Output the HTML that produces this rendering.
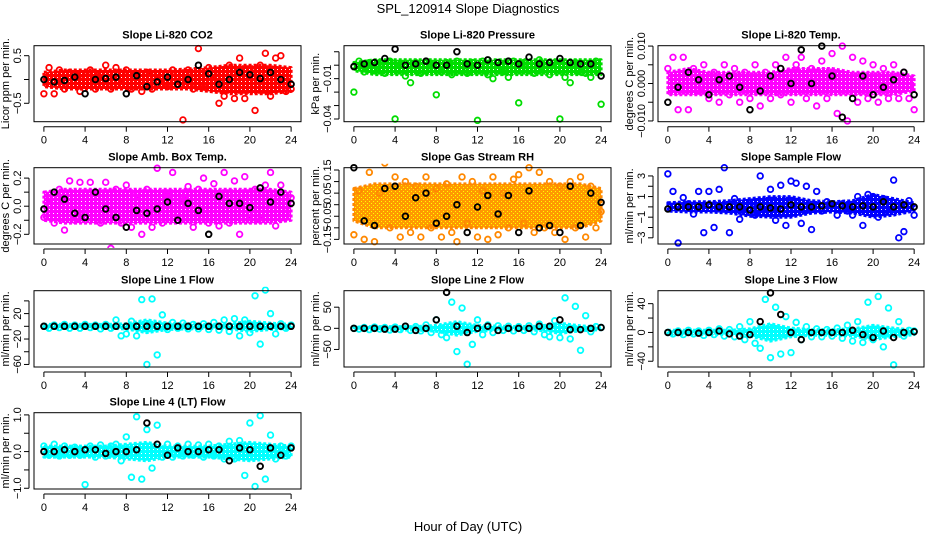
<!DOCTYPE html>
<html><head><meta charset="utf-8">
<style>
html,body{margin:0;padding:0;background:#fff;}
svg{display:block;font-family:"Liberation Sans",Arial,sans-serif;}
</style></head>
<body>
<svg id="chart" width="936" height="540" viewBox="0 0 936 540" xmlns="http://www.w3.org/2000/svg">
<text x="468" y="13" text-anchor="middle" font-size="13">SPL_120914  Slope Diagnostics</text>
<text x="468" y="531" text-anchor="middle" font-size="13">Hour of Day (UTC)</text>
</svg>
<script>
// ---- shared categories ----
const HOURS49 = [0,0.5,1,1.5,2,2.5,3,3.5,4,4.5,5,5.5,6,6.5,7,7.5,8,8.5,9,9.5,10,10.5,11,11.5,12,12.5,13,13.5,14,14.5,15,15.5,16,16.5,17,17.5,18,18.5,19,19.5,20,20.5,21,21.5,22,22.5,23,23.5,24];
const HOURS25 = [0,1,2,3,4,5,6,7,8,9,10,11,12,13,14,15,16,17,18,19,20,21,22,23,24];
const HOURS13 = [0,2,4,6,8,10,12,14,16,18,20,22,24];
const XTICKS = [0,4,8,12,16,20,24];
const XTICK_LABELS = ["0","4","8","12","16","20","24"];

// ---- panel 1: CO2 ----
const co2Points = [-0.3,0.25,-0.3,0.2,-0.2,0.15,0.1,-0.25,0.05,0.2,-0.2,0.1,0.3,-0.2,0.25,-0.1,0.2,-0.2,0.1,-0.25,0.15,-0.2,0.1,-0.1,-0.15,0.2,-0.1,-0.85,0.2,-0.2,0.65,-0.15,0.25,0.1,-0.5,-0.35,0.3,-0.4,0.45,-0.4,0.2,-0.65,0.3,0.55,-0.35,0.45,0.5,-0.25,-0.2];
const co2Hourly = [0,-0.05,-0.02,0.05,-0.3,0,0.02,0.05,-0.3,0.08,-0.15,-0.05,0.05,-0.1,0,0.3,0.12,-0.1,0,0.15,0.1,0.02,0.15,0,-0.1];
const co2BandHi = [0.15,0.2,0.2,0.2,0.2,0.2,0.2,0.22,0.25,0.3,0.3,0.3,0.25];
const co2BandLo = [-0.15,-0.2,-0.2,-0.2,-0.2,-0.2,-0.2,-0.2,-0.25,-0.3,-0.3,-0.3,-0.25];
// ---- panel 2: pressure ----
const presPoints = [-0.02,0.003,-0.005,0.002,-0.004,0.002,-0.006,0.003,-0.04,0.001,-0.008,-0.013,0.002,-0.006,-0.004,0.001,-0.022,-0.005,0.002,-0.007,0.003,-0.004,-0.006,0.002,-0.041,0.003,-0.007,-0.01,0.002,-0.005,-0.009,0.003,-0.028,0.002,-0.004,-0.006,0.004,-0.003,-0.007,0.002,-0.04,-0.009,-0.013,0.002,-0.005,-0.006,-0.009,0.003,-0.029];
const presHourly = [-0.001,0.001,0.002,0.005,0.012,0,0.001,0.003,0,0,0.01,0.001,0,0.004,0.002,0.003,0.001,0.006,0.001,0.002,0.005,0.002,0.001,0.001,-0.008];
const presBandHi = [0.002,0.004,0.004,0.004,0.004,0.004,0.004,0.004,0.004,0.004,0.004,0.004,0.004];
const presBandLo = [-0.004,-0.007,-0.007,-0.007,-0.007,-0.007,-0.007,-0.007,-0.007,-0.007,-0.007,-0.007,-0.007];
// ---- panel 3: Li-820 temp ----
const ltPoints = [0.004,0.007,-0.007,0.007,-0.007,0.004,-0.002,0.005,-0.004,0.003,-0.005,0.005,-0.003,0.004,-0.005,0.003,-0.004,0.005,-0.006,0.003,-0.004,0.005,-0.003,0.007,-0.005,0.005,0.007,-0.004,0.004,-0.006,0.006,-0.004,0.008,-0.008,0.01,-0.01,0.007,-0.005,0.006,-0.004,0.005,-0.005,0.004,-0.004,0.005,-0.004,0.003,-0.004,-0.007];
const ltHourly = [-0.005,-0.001,0.003,0.001,-0.003,0.001,0.002,-0.001,-0.007,-0.002,0.002,0.004,0,0.009,0,0.01,0.002,-0.009,-0.004,0.002,-0.003,-0.001,0.001,0.003,-0.003];
const ltBandHi = [0.003,0.004,0.003,0.003,0.003,0.003,0.004,0.004,0.004,0.003,0.003,0.003,0.002];
const ltBandLo = [-0.003,-0.003,-0.003,-0.003,-0.003,-0.003,-0.003,-0.003,-0.003,-0.003,-0.003,-0.003,-0.002];
// ---- panel 4: amb box temp ----
const abPoints = [-0.08,0.05,-0.12,0.12,-0.17,0.18,-0.1,0.17,-0.05,0.17,0.1,-0.12,0.17,-0.3,0.12,-0.12,0.15,-0.15,0.08,-0.2,0.12,-0.15,0.27,-0.12,0.08,0.24,-0.1,0.05,0.14,-0.15,0.12,0.2,-0.12,0.16,-0.14,0.24,-0.12,0.18,-0.2,0.21,-0.1,0.12,-0.1,0.15,0.24,-0.14,0.15,-0.05,0.06];
const abHourly = [-0.02,0.1,0.05,-0.05,-0.08,0.1,-0.02,-0.08,-0.15,-0.03,-0.05,-0.02,0.03,-0.1,0.02,-0.03,-0.2,0.07,0.02,0.02,-0.01,0.13,0.03,0.1,0.02];
const abBandHi = [0.1,0.12,0.12,0.12,0.12,0.12,0.12,0.12,0.12,0.12,0.12,0.12,0.1];
const abBandLo = [-0.1,-0.12,-0.12,-0.12,-0.12,-0.12,-0.12,-0.12,-0.12,-0.12,-0.12,-0.12,-0.1];
// ---- panel 5: gas stream RH ----
const rhPoints = [-0.13,0.06,-0.15,0.14,-0.16,0.05,0.18,-0.1,0.12,-0.14,0.1,-0.12,0.08,-0.14,0.12,-0.1,0.07,-0.14,0.09,-0.12,-0.16,0.12,-0.08,0.1,-0.14,0.06,-0.15,0.12,-0.13,0.05,-0.1,0.11,0.13,-0.08,0.16,-0.12,0.14,-0.1,0.1,-0.12,0.08,-0.15,0.1,-0.1,0.12,-0.14,0.08,-0.1,-0.03];
const rhHourly = [0.16,-0.07,-0.09,0.07,0.08,-0.05,0.03,0.05,-0.08,-0.05,0,-0.12,-0.01,0.04,-0.04,0.04,-0.12,0.06,-0.1,-0.09,-0.12,0.08,-0.09,0.05,0.01];
const rhBandHi = [0.07,0.09,0.09,0.09,0.09,0.09,0.09,0.09,0.09,0.09,0.09,0.09,0.07];
const rhBandLo = [-0.07,-0.1,-0.1,-0.1,-0.1,-0.1,-0.1,-0.1,-0.1,-0.1,-0.1,-0.1,-0.07];
// ---- panel 6: sample flow ----
const sfPoints = [3.2,1.5,-3.5,0.9,0.3,-0.7,1.5,-2.5,1.5,-2,1.7,3.8,-2.5,0.8,-1.2,-0.5,0.2,-0.8,3,-0.5,1.7,-1.3,2.1,-1.8,2.5,2.3,-1.6,2,-2.2,1.5,-0.4,0.5,0.2,-0.8,0.3,-0.4,-0.8,1,-1.8,1.2,1,-1,0.8,-0.5,2.6,-3,-2.4,0.6,-0.8];
const sfHourly = [-0.2,0,0,0,0.2,0,0,0,-0.3,0,-0.1,-0.2,0.2,0,0,0.1,0.3,0.1,0,0.1,0,0.5,0,0.2,0];
const sfBandHi = [0.4,0.5,0.5,0.6,0.8,1,1,0.6,0.5,0.6,1.2,0.8,0.4];
const sfBandLo = [-0.4,-0.5,-0.5,-0.6,-0.9,-1,-1,-0.6,-0.5,-0.6,-1,-0.8,-0.4];
// ---- panel 7: line 1 flow ----
const l1Points = [0,-3,2,-2,3,-3,2,-3,3,-2,2,-4,3,-3,10,-15,-12,8,-15,42,-60,43,-45,18,-5,6,-3,5,-4,3,-4,4,-5,6,-6,10,-8,12,-15,10,-10,48,-28,57,20,-12,4,-3,2];
const l1Hourly = [0,0,0,0,0,0,0,0,0,0,0,0,0,0,0,0,0,0,0,0,0,0,0,0,0];
const l1BandHi = [3,3,3,3,4,10,5,4,3,4,8,5,3];
const l1BandLo = [-3,-3,-3,-3,-4,-10,-5,-4,-3,-4,-8,-5,-3];
// ---- panel 8: line 2 flow ----
const l2Points = [0,-2,2,-3,3,-2,2,-4,3,-3,5,-5,4,-6,8,-10,20,-15,-22,62,-55,48,-85,-38,20,-15,8,-10,6,-5,5,-6,4,-5,6,-8,10,-15,-20,18,-22,72,-25,52,-52,30,-8,4,2];
const l2Hourly = [0,0,0,-2,-2,5,-5,0,20,85,5,-10,0,5,-5,0,0,0,5,5,20,-3,-3,0,2];
const l2BandHi = [3,4,4,4,7,16,7,5,4,5,12,6,3];
const l2BandLo = [-3,-4,-4,-4,-7,-16,-7,-5,-4,-5,-12,-6,-3];
// ---- panel 9: line 3 flow ----
const l3Points = [0,-2,2,-3,3,-2,2,-4,3,-3,5,-5,4,-6,8,-10,15,-15,-22,46,-35,35,-30,22,-28,14,-10,8,-6,5,-6,4,-5,6,-8,10,-12,15,-14,42,-10,50,-20,34,-45,15,-5,3,2];
const l3Hourly = [0,0,0,-1,0,2,-2,-5,-3,15,55,25,0,-10,0,0,0,0,3,-3,-7,2,-7,0,1];
const l3BandHi = [3,3,3,3,5,12,6,4,4,5,10,6,3];
const l3BandLo = [-3,-3,-3,-3,-5,-12,-6,-4,-4,-5,-10,-6,-3];
// ---- panel 10: line 4 (LT) flow ----
const l4Points = [0.15,-0.1,0.2,-0.12,0.15,-0.1,0.12,-0.1,-0.9,0.15,-0.15,0.18,-0.12,0.15,0.2,-0.25,0.4,-0.7,0.95,-0.75,0.6,-0.45,0.72,-0.15,0.2,-0.15,0.15,-0.12,0.2,-0.1,0.18,-0.15,0.2,-0.12,0.15,-0.2,0.28,-0.2,0.3,-0.65,0.78,-0.95,0.98,-0.75,0.45,-0.2,0.15,-0.12,0.15];
const l4Hourly = [0,0,0.05,0,0.05,0.05,-0.05,0,0,0.05,0.78,0.2,-0.1,0.1,0,0,0.05,0.05,-0.25,0.1,0.05,-0.4,0.1,-0.1,0.1];
const l4BandHi = [0.15,0.15,0.15,0.15,0.2,0.25,0.15,0.15,0.15,0.2,0.25,0.2,0.15];
const l4BandLo = [-0.15,-0.15,-0.15,-0.15,-0.2,-0.25,-0.15,-0.15,-0.15,-0.2,-0.25,-0.2,-0.15];

// ---- y ticks / labels ----
const co2Ticks=[0.5,0,-0.5], co2Labels=["0.5","","−0.5"];
const presTicks=[0.01,0,-0.01,-0.02,-0.03,-0.04], presLabels=["","","−0.01","","","−0.04"];
const ltTicks=[0.01,0.005,0,-0.005,-0.01], ltLabels=["0.010","","0.000","","−0.010"];
const abTicks=[0.2,0.1,0,-0.1,-0.2], abLabels=["0.2","","0.0","","−0.2"];
const rhTicks=[0.15,0.1,0.05,0,-0.05,-0.1,-0.15], rhLabels=["0.15","","0.05","","−0.05","","−0.15"];
const sfTicks=[3,2,1,0,-1,-2,-3], sfLabels=["3","","1","","−1","","−3"];
const l1Ticks=[40,20,0,-20,-40,-60], l1Labels=["","20","","−20","","−60"];
const l2Ticks=[50,0,-50], l2Labels=["50","0","−50"];
const l3Ticks=[40,20,0,-20,-40], l3Labels=["40","","0","","−40"];
const l4Ticks=[1,0.5,0,-0.5,-1], l4Labels=["1.0","","0.0","","−1.0"];

// layout (not data)
const COLS=[[34,301],[344,611],[658,924]];
const ROWS=[[45.7,121.7],[167.7,244],[290.7,367],[412.7,489]];
const NS="http://www.w3.org/2000/svg";
const svg=document.getElementById('chart');
function mk(tag,attrs,parent){const e=document.createElementNS(NS,tag);for(const k in attrs)e.setAttribute(k,attrs[k]);(parent||svg).appendChild(e);return e;}
const defs=mk('defs',{});

const panels=[
 {name:'co2',title:'Slope Li-820 CO2',ylab:'Licor ppm per min.',col:0,row:0,ylim:[-0.887,0.71],pts:co2Points,hr:co2Hourly,hi:co2BandHi,lo:co2BandLo,color:'#ff0000',band:'#ff0000',ticks:co2Ticks,labels:co2Labels},
 {name:'pressure',title:'Slope Li-820 Pressure',ylab:'kPa per min.',col:1,row:0,ylim:[-0.042,0.0145],pts:presPoints,hr:presHourly,hi:presBandHi,lo:presBandLo,color:'#00dd00',band:'#00dd00',ticks:presTicks,labels:presLabels},
 {name:'li820-temp',title:'Slope Li-820 Temp.',ylab:'degrees C per min.',col:2,row:0,ylim:[-0.0102,0.0101],pts:ltPoints,hr:ltHourly,hi:ltBandHi,lo:ltBandLo,color:'#ff00ff',band:'#ff00ff',ticks:ltTicks,labels:ltLabels},
 {name:'amb-box-temp',title:'Slope Amb. Box Temp.',ylab:'degrees C per min.',col:0,row:1,ylim:[-0.269,0.274],pts:abPoints,hr:abHourly,hi:abBandHi,lo:abBandLo,color:'#ff00ff',band:'#ff00ff',ticks:abTicks,labels:abLabels},
 {name:'gas-stream-rh',title:'Slope Gas Stream RH',ylab:'percent per min.',col:1,row:1,ylim:[-0.17,0.16],pts:rhPoints,hr:rhHourly,hi:rhBandHi,lo:rhBandLo,color:'#ff8800',band:'#ff9900',ticks:rhTicks,labels:rhLabels},
 {name:'sample-flow',title:'Slope Sample Flow',ylab:'ml/min per min.',col:2,row:1,ylim:[-3.6,3.8],pts:sfPoints,hr:sfHourly,hi:sfBandHi,lo:sfBandLo,color:'#0000ff',band:'#0000ff',ticks:sfTicks,labels:sfLabels},
 {name:'line1-flow',title:'Slope Line 1 Flow',ylab:'ml/min per min.',col:0,row:2,ylim:[-64,56],pts:l1Points,hr:l1Hourly,hi:l1BandHi,lo:l1BandLo,color:'#00ffff',band:'#00ffff',ticks:l1Ticks,labels:l1Labels},
 {name:'line2-flow',title:'Slope Line 2 Flow',ylab:'ml/min per min.',col:1,row:2,ylim:[-91.5,89],pts:l2Points,hr:l2Hourly,hi:l2BandHi,lo:l2BandLo,color:'#00ffff',band:'#00ffff',ticks:l2Ticks,labels:l2Labels},
 {name:'line3-flow',title:'Slope Line 3 Flow',ylab:'ml/min per min.',col:2,row:2,ylim:[-48,58],pts:l3Points,hr:l3Hourly,hi:l3BandHi,lo:l3BandLo,color:'#00ffff',band:'#00ffff',ticks:l3Ticks,labels:l3Labels},
 {name:'line4-flow',title:'Slope Line 4 (LT) Flow',ylab:'ml/min per min.',col:0,row:3,ylim:[-1.02,1.06],pts:l4Points,hr:l4Hourly,hi:l4BandHi,lo:l4BandLo,color:'#00ffff',band:'#00ffff',ticks:l4Ticks,labels:l4Labels}
];

panels.forEach(p=>{
 const [x0,x1]=COLS[p.col],[y0,y1]=ROWS[p.row];
 const xs=v=>x0+(v+0.96)/25.92*(x1-x0);
 const ys=v=>y1-(v-p.ylim[0])/(p.ylim[1]-p.ylim[0])*(y1-y0);
 // speckled pattern for dense band
 const pat=mk('pattern',{id:'pat-'+p.name,width:4,height:4,patternUnits:'userSpaceOnUse'},defs);
 mk('rect',{x:0,y:0,width:4,height:4,fill:p.band},pat);
 mk('rect',{x:1,y:1,width:1,height:1,fill:(p.name==='gas-stream-rh')?'#ffff00':'#ffffff'},pat);
 if(p.name==='gas-stream-rh') mk('rect',{x:3,y:3,width:1,height:1,fill:'#ffff00'},pat);
 const g=mk('g',{});
 
 
 const clip=mk('clipPath',{id:'c-'+p.name},g);
 mk('rect',{x:x0-4,y:y0-4,width:x1-x0+8,height:y1-y0+8},clip);
 const plot=mk('g',{'clip-path':'url(#c-'+p.name+')'},g);
 let d='';
 HOURS13.forEach((h,i)=>{d+=(i?'L':'M')+xs(h).toFixed(1)+','+ys(p.hi[i]).toFixed(1);});
 for(let i=HOURS13.length-1;i>=0;i--)d+='L'+xs(HOURS13[i]).toFixed(1)+','+ys(p.lo[i]).toFixed(1);
 const band=mk('path',{d:d+'Z',fill:'url(#pat-'+p.name+')',stroke:p.color,'stroke-width':3,'stroke-linejoin':'round','stroke-dasharray':'3 2'},plot);
 
 
 p.pts.forEach((v,i)=>{if(i>=HOURS49.length)return;
  const c=mk('circle',{cx:xs(HOURS49[i]),cy:ys(v),r:2.8,fill:'none',stroke:p.color,'stroke-width':1.8},plot);
  
  
 });
 p.hr.forEach((v,i)=>{if(i>=HOURS25.length)return;
  const c=mk('circle',{cx:xs(HOURS25[i]),cy:ys(v),r:2.8,fill:'none',stroke:'#000','stroke-width':1.9},plot);
  
  
 });
 const box=mk('rect',{x:x0,y:y0,width:x1-x0,height:y1-y0,fill:'none',stroke:'#000','stroke-width':1},g);
 
 
 const t=mk('text',{x:(x0+x1)/2,y:y0-7,'text-anchor':'middle','font-size':11,'font-weight':'bold'},g);
 t.textContent=p.title;
 
 
 const xa=mk('g',{},g);
 
 
 mk('line',{x1:xs(XTICKS[0]),x2:xs(XTICKS[XTICKS.length-1]),y1:y1+5,y2:y1+5,stroke:'#000'},xa);
 XTICKS.forEach((v,i)=>{
  mk('line',{x1:xs(v),x2:xs(v),y1:y1+5,y2:y1+10,stroke:'#000'},xa);
  const tl=mk('text',{x:xs(v),y:y1+22,'text-anchor':'middle','font-size':11},xa);
  tl.textContent=XTICK_LABELS[i];
  
  
 });
 const ya=mk('g',{},g);
 
 
 mk('line',{x1:x0-5,x2:x0-5,y1:ys(p.ticks[0]),y2:ys(p.ticks[p.ticks.length-1]),stroke:'#000'},ya);
 p.ticks.forEach((v,i)=>{
  mk('line',{x1:x0-10,x2:x0-5,y1:ys(v),y2:ys(v),stroke:'#000'},ya);
  if(p.labels[i]){const tl=mk('text',{x:x0-13,y:ys(v),'text-anchor':'middle','font-size':11,transform:'rotate(-90 '+(x0-13)+' '+ys(v)+')'},ya);
  tl.textContent=p.labels[i];
  
  }
 });
 const yl=mk('text',{x:x0-25,y:(y0+y1)/2,'text-anchor':'middle','font-size':11,transform:'rotate(-90 '+(x0-25)+' '+((y0+y1)/2)+')'},g);
 yl.textContent=p.ylab;
 
 
});
</script>
</body></html>
